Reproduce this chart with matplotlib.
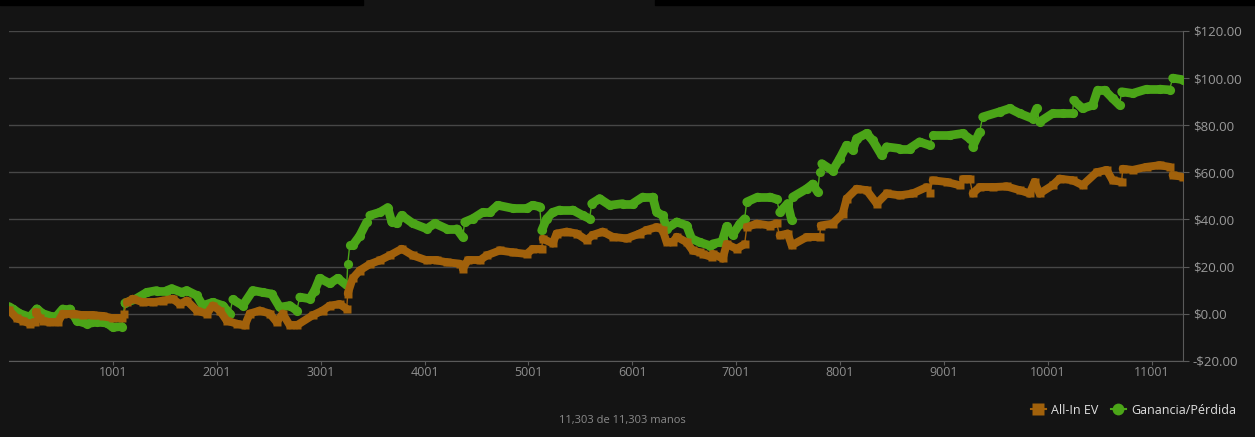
import matplotlib
matplotlib.use("Agg")
import matplotlib.pyplot as plt
from matplotlib.lines import Line2D
from matplotlib.patches import Rectangle
from matplotlib.collections import LineCollection
from matplotlib.ticker import FuncFormatter

plt.rcParams['font.family'] = ['Open Sans', 'DejaVu Sans']

# Ganancia/Pérdida (hand number, dollars)
win_hands = [1, 38, 105, 201, 269, 326, 394, 461, 519, 586, 654, 750, 846, 942, 1000,
             1087, 1116, 1212, 1327, 1423, 1520, 1568, 1664, 1712, 1809, 1866, 1963, 2059,
             2126, 2155, 2251, 2348, 2444, 2531, 2607, 2704, 2771, 2800, 2896, 2944, 2992,
             3089, 3166, 3252, 3262, 3281, 3310, 3377, 3445, 3474, 3570, 3647, 3686, 3734,
             3782, 3888, 4023, 4100, 4215, 4311, 4369, 4388, 4465, 4561, 4629, 4706, 4850,
             4985, 5042, 5110, 5129, 5177, 5235, 5302, 5427, 5524, 5591, 5610, 5687, 5784,
             5909, 6005, 6102, 6198, 6236, 6294, 6332, 6429, 6525, 6573, 6650, 6746, 6775,
             6843, 6872, 6910, 6968, 7035, 7083, 7103, 7208, 7324, 7391, 7420, 7497, 7536,
             7545, 7680, 7738, 7786, 7805, 7825, 7930, 7998, 8065, 8123, 8161, 8257, 8315,
             8402, 8450, 8575, 8671, 8767, 8864, 8893, 9056, 9181, 9249, 9278, 9345, 9374,
             9538, 9634, 9730, 9855, 9894, 9923, 10048, 10144, 10240, 10250, 10336, 10433,
             10481, 10548, 10625, 10692, 10712, 10818, 10952, 11078, 11174, 11203, 11303]
win_vals = [3.0, 2.0, 0.0, -1.5, 2.0, 0.0, -1.0, -1.0, 2.0, 2.0, -3.0, -4.3, -3.6, -4.0, -5.8,
            -5.5, 4.5, 6.0, 9.0, 9.8, 9.8, 10.6, 9.0, 9.8, 7.7, 3.4, 4.8, 3.4,
            0.0, 6.0, 3.4, 9.8, 9.0, 8.3, 2.7, 3.4, 1.3, 7.0, 6.3, 9.8, 15.0,
            12.8, 15.0, 12.0, 21.0, 29.0, 29.0, 33.0, 38.9, 41.7, 43.0, 45.0, 38.9, 38.3,
            41.7, 38.3, 36.0, 38.3, 36.0, 36.0, 32.5, 38.9, 40.3, 43.0, 43.0, 46.0, 44.7,
            44.7, 46.0, 45.4, 35.3, 40.3, 43.0, 44.0, 44.0, 41.7, 40.3, 46.7, 48.8, 46.0,
            46.7, 46.7, 49.5, 49.5, 43.0, 41.7, 36.0, 38.9, 37.4, 31.8, 30.3, 28.9, 29.6,
            30.3, 31.6, 37.0, 33.5, 38.0, 40.3, 47.4, 49.5, 49.5, 48.6, 43.0, 46.7, 39.6,
            49.5, 53.0, 55.0, 51.6, 60.0, 63.7, 60.7, 65.8, 71.5, 69.4, 74.3, 76.5, 73.6,
            67.2, 70.8, 70.1, 70.1, 72.9, 71.5, 75.7, 75.7, 76.5, 74.3, 70.8, 77.1, 83.5,
            85.7, 87.1, 85.0, 82.8, 87.1, 81.4, 85.0, 85.0, 85.0, 90.6, 87.1, 88.5,
            94.9, 94.9, 91.4, 88.5, 94.2, 93.5, 95.3, 95.3, 95.0, 100.0, 99.3]

# All-In EV (hand number, dollars)
ev_hands = [1, 76, 134, 201, 249, 259, 297, 326, 394, 471, 519, 615, 711, 808, 904, 1000,
            1087, 1106, 1135, 1193, 1289, 1385, 1481, 1578, 1645, 1712, 1809, 1905, 1963,
            2030, 2097, 2194, 2271, 2319, 2415, 2511, 2578, 2636, 2704, 2771, 2925, 3021,
            3089, 3185, 3252, 3262, 3310, 3377, 3474, 3570, 3666, 3782, 3888, 4023, 4119,
            4215, 4340, 4369, 4417, 4533, 4600, 4725, 4850, 4985, 5042, 5129, 5139, 5235,
            5273, 5370, 5466, 5562, 5620, 5716, 5812, 5947, 6072, 6140, 6236, 6294, 6332,
            6390, 6429, 6525, 6582, 6650, 6679, 6765, 6775, 6872, 6910, 7006, 7083, 7103,
            7199, 7324, 7391, 7420, 7497, 7536, 7680, 7805, 7815, 7930, 8027, 8065, 8161,
            8257, 8354, 8450, 8575, 8700, 8835, 8864, 8893, 9027, 9152, 9181, 9249, 9278,
            9345, 9470, 9605, 9730, 9826, 9874, 9923, 10048, 10115, 10240, 10336, 10471,
            10568, 10625, 10712, 10722, 10818, 10952, 11078, 11174, 11203, 11303]
ev_vals = [1.5, -2.0, -3.0, -4.3, -3.5, 0.7, -2.0, -3.0, -3.7, -3.7, 0.0, 0.0, -0.7, -0.7, -1.0, -2.0,
           -2.0, 0.0, 4.8, 6.3, 4.8, 4.8, 5.5, 6.3, 4.0, 5.5, 1.3, 0.0, 3.4,
           1.3, -3.0, -4.3, -5.0, 0.0, 1.3, 0.0, -3.6, 0.0, -5.0, -5.0, -0.7, 1.3,
           3.4, 4.0, 2.0, 8.5, 15.0, 18.3, 21.0, 22.6, 24.7, 27.5, 24.7, 22.6, 22.6,
           21.8, 21.2, 19.0, 22.6, 22.6, 24.7, 26.8, 26.0, 25.3, 27.5, 27.5, 31.8, 29.8,
           34.0, 34.8, 34.0, 31.2, 33.4, 34.8, 32.6, 31.9, 34.0, 35.5, 36.7, 35.5, 30.3,
           30.3, 32.6, 30.3, 26.8, 26.0, 25.3, 24.0, 25.4, 23.4, 29.5, 27.5, 29.5, 36.7,
           38.2, 37.4, 38.3, 33.2, 34.0, 29.0, 32.5, 32.5, 37.4, 38.2, 42.4, 48.8, 53.0,
           52.4, 46.7, 51.0, 50.2, 51.0, 53.7, 51.0, 56.6, 55.9, 54.5, 57.3, 57.3, 51.0,
           53.7, 53.7, 54.0, 52.4, 51.0, 55.9, 51.0, 54.5, 57.3, 56.6, 54.5, 60.0,
           61.0, 56.6, 55.9, 61.5, 61.0, 62.3, 63.0, 62.3, 58.8, 58.0]

x_ticks = [1001, 2001, 3001, 4001, 5001, 6001, 7001, 8001, 9001, 10001, 11001]
y_ticks = [-20, 0, 20, 40, 60, 80, 100, 120]

bg = '#141414'
green = '#4ba518'
brown = '#a1610b'

W, H = 1255, 437
fig = plt.figure(figsize=(W / 100, H / 100), dpi=100, facecolor=bg)

# black strips along the top edge
fig.patches.append(Rectangle((0, 1 - 5 / H), 363 / W, 5 / H, transform=fig.transFigure,
                             color='black', zorder=0))
fig.patches.append(Rectangle((655 / W, 1 - 5 / H), 600 / W, 5 / H, transform=fig.transFigure,
                             color='black', zorder=0))

ax = fig.add_axes([9 / W, (H - 360.7) / H, 1174 / W, 329.7 / H])
ax.set_facecolor(bg)


def draw_series(hands, vals, color, marker, ms, z):
    # thin connector through every point, thick band where the run is continuous
    ax.plot(hands, vals, color=color, lw=1, zorder=z)
    segs = [[(hands[i], vals[i]), (hands[i + 1], vals[i + 1])]
            for i in range(len(hands) - 1) if hands[i + 1] - hands[i] > 35]
    ax.add_collection(LineCollection(segs, colors=color, linewidths=ms * 0.95,
                                     capstyle='round', zorder=z))
    ax.plot(hands, vals, ls='none', color=color, marker=marker, ms=ms, mec='none', zorder=z)


draw_series(win_hands, win_vals, green, 'o', 6.6, 3)
draw_series(ev_hands, ev_vals, brown, 's', 6.0, 4)

ax.set_xlim(1, 11303)
ax.set_ylim(-20, 120)
ax.set_xticks(x_ticks)
ax.set_yticks(y_ticks)
ax.yaxis.tick_right()
ax.yaxis.set_major_formatter(FuncFormatter(
    lambda v, p: ('-$%.2f' % abs(v)) if v < 0 else ('$%.2f' % v)))
ax.grid(axis='y', color='#474747', lw=1)
ax.set_axisbelow(True)

for side in ['top', 'left']:
    ax.spines[side].set_visible(False)
ax.spines['right'].set_color('#5a5a5a')
ax.spines['bottom'].set_color('#5a5a5a')
ax.tick_params(axis='y', colors='#5a5a5a', labelcolor='#9a9a9a', labelsize=9.5,
               length=4, pad=3)
ax.tick_params(axis='x', colors='#5a5a5a', labelcolor='#8e8e8e', labelsize=9,
               length=3, pad=1)

handles = [Line2D([], [], color=brown, lw=1.5, marker='s', ms=8, mec='none'),
           Line2D([], [], color=green, lw=1.5, marker='o', ms=8.5, mec='none')]
fig.legend(handles, ['All-In EV', 'Ganancia/Pérdida'], loc='center right',
           bbox_to_anchor=(1247 / W, (H - 410) / H), ncol=2, frameon=False,
           handlelength=1.2, handletextpad=0.4, columnspacing=1.0,
           labelcolor='#e0e0e0', fontsize=9)

fig.text(622 / W, (H - 421) / H, '11,303 de 11,303 manos', ha='center', va='center',
         color='#8a8a8a', fontsize=8)

fig.savefig('out.png', dpi=100, facecolor=bg)
